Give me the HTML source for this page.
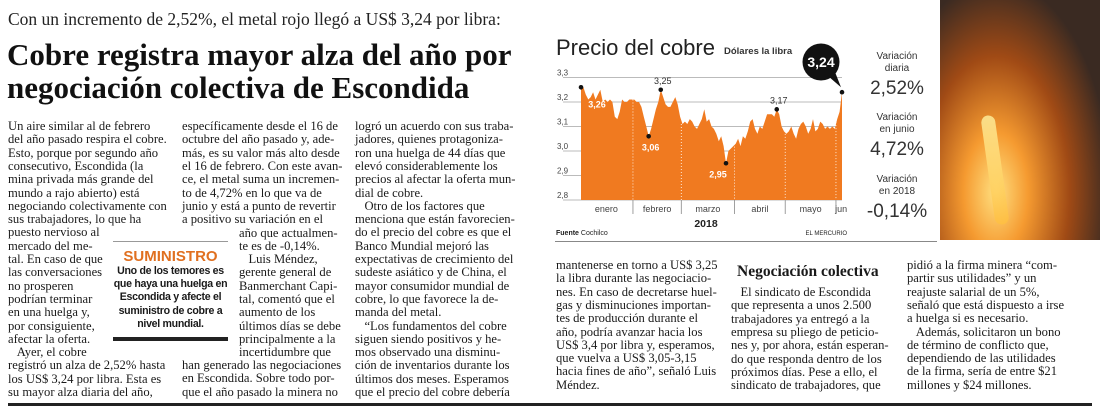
<!DOCTYPE html>
<html><head><meta charset="utf-8">
<style>
body{margin:0;width:1100px;height:417px;background:#fff;position:relative;overflow:hidden;font-family:"Liberation Serif",serif;color:#1a1a1a}
.l{position:absolute;white-space:nowrap;font-size:12.6px;line-height:13px}
.abs{position:absolute}
</style></head><body>
<div class="abs" style="left:8px;top:9px;font-size:17.5px;color:#222">Con un incremento de 2,52%, el metal rojo llegó a US$ 3,24 por libra:</div>
<div class="abs" style="left:7px;top:38px;font-size:31px;font-weight:bold;line-height:33px;color:#111">Cobre registra mayor alza del año por<br>negociación colectiva de Escondida</div>

<div id="body"></div>

<div class="abs" style="left:113px;top:241px;width:115px;height:1px;background:#999"></div>
<div class="abs" style="left:113px;top:248px;width:115px;text-align:center;font-family:'Liberation Sans',sans-serif;font-weight:bold;font-size:15px;color:#e07020">SUMINISTRO</div>
<div class="abs" style="left:110px;top:265px;width:121px;text-align:center;font-family:'Liberation Sans',sans-serif;font-weight:bold;font-size:10.6px;line-height:13.2px;letter-spacing:-0.3px">Uno de los temores es que haya una huelga en Escondida y afecte el suministro de cobre a nivel mundial.</div>
<div class="abs" style="left:113px;top:337px;width:115px;height:4px;background:#222"></div>

<div class="abs" style="left:737px;top:263px;font-size:15.5px;font-weight:bold">Negociación colectiva</div>
<div class="abs" style="left:8px;top:403px;width:1084px;height:3px;background:#222"></div>
<div class="abs" style="left:555px;top:241px;width:382px;height:1px;background:#888"></div>

<div class="abs" style="left:940px;top:0;width:160px;height:240px;background:radial-gradient(ellipse at 35% 80%,#ffe080 0%,#f59a30 22%,#a04a15 50%,#3a2a22 78%),#2a2420"></div>
<div class="abs" style="left:988px;top:115px;width:14px;height:110px;background:linear-gradient(#fff2a0,#ffc040);border-radius:7px;transform:rotate(-8deg);opacity:0.8"></div>

<svg class="abs" style="left:0;top:0" width="1100" height="417" id="chart">
<text x="556" y="55" font-family="Liberation Sans,sans-serif" font-size="22" fill="#222">Precio del cobre</text>
<text x="724" y="54" font-family="Liberation Sans,sans-serif" font-size="9.5" font-weight="bold" fill="#333">Dólares la libra</text>
<g id="plot"></g>
<text x="706" y="227" text-anchor="middle" font-family="Liberation Sans,sans-serif" font-size="10.5" font-weight="bold" fill="#222">2018</text>
<text x="556" y="235" font-family="Liberation Sans,sans-serif" font-size="7" fill="#222"><tspan font-weight="bold">Fuente</tspan> Cochilco</text>
<text x="847" y="235" text-anchor="end" font-family="Liberation Sans,sans-serif" font-size="6" fill="#222">EL MERCURIO</text>
<g font-family="Liberation Sans,sans-serif" text-anchor="middle" fill="#333">
<text x="897" y="59" font-size="10">Variación</text>
<text x="897" y="71" font-size="10">diaria</text>
<text x="897" y="94" font-size="19">2,52%</text>
<text x="897" y="120" font-size="10">Variación</text>
<text x="897" y="132" font-size="10">en junio</text>
<text x="897" y="155" font-size="19">4,72%</text>
<text x="897" y="182" font-size="10">Variación</text>
<text x="897" y="194" font-size="10">en 2018</text>
<text x="897" y="217" font-size="19">-0,14%</text>
</g>
</svg>

<script>
const prices=[3.26,3.26,3.23,3.21,3.22,3.24,3.21,3.23,3.25,3.20,3.21,3.20,3.21,3.20,3.14,3.13,3.16,3.21,3.20,3.20,3.21,3.21,
3.21,3.20,3.20,3.18,3.14,3.10,3.06,3.09,3.13,3.17,3.20,3.25,3.22,3.19,3.18,3.18,3.20,3.22,3.19,3.14,
3.11,3.12,3.11,3.13,3.12,3.10,3.09,3.11,3.13,3.17,3.12,3.13,3.10,3.09,3.07,3.04,3.06,3.02,2.95,3.00,3.01,3.02,
3.03,3.05,3.02,3.06,3.05,3.08,3.12,3.13,3.09,3.07,3.10,3.09,3.12,3.15,3.15,3.15,3.14,3.17,3.15,3.10,3.08,
3.07,3.08,3.10,3.07,3.05,3.09,3.11,3.12,3.10,3.07,3.09,3.13,3.08,3.09,3.12,3.11,3.09,3.10,3.09,3.10,3.09,
3.13,3.16,3.24];
const months=["enero","febrero","marzo","abril","mayo","jun"];
const monthStart=[0,22,42,64,85,106];
const yTicks=[3.3,3.2,3.1,3.0,2.9,2.8];
const annIdx=[0,28,33,60,81];
const annLabels=["3,26","3,06","3,25","2,95","3,17"];
const lastLabel="3,24";
const X0=581,X1=842,Y0=200,YMIN=2.8,YMAX=3.3,YT=77.5;
const ns="http://www.w3.org/2000/svg";
const xs=i=>X0+(X1-X0)*i/(prices.length-1);
const ys=v=>Y0-(v-YMIN)/(YMAX-YMIN)*(Y0-YT);
const g=document.getElementById('plot');
function mk(t,a){const e=document.createElementNS(ns,t);for(const k in a)e.setAttribute(k,a[k]);g.appendChild(e);return e;}
yTicks.forEach(v=>{
 const ln=mk('line',{x1:X0-18,x2:X1,y1:ys(v),y2:ys(v),stroke:'#bbb','stroke-width':1});
 
 
 const t=mk('text',{x:X0-24,y:ys(v)-2,'font-family':'Liberation Sans,sans-serif','font-size':8,fill:'#444'});
 t.textContent=v.toFixed(1).replace('.',',');
 
 
});
let d='M'+xs(0)+','+Y0;
prices.forEach((v,i)=>{d+=' L'+xs(i).toFixed(1)+','+ys(v).toFixed(1);});
d+=' L'+xs(prices.length-1)+','+Y0+' Z';
const area=mk('path',{d:d,fill:'#f07a20'});


monthStart.forEach((s,i)=>{
 if(i>0){const dl=mk('line',{x1:xs(s-0.5),x2:xs(s-0.5),y1:ys(prices[s]),y2:Y0+12,stroke:'#fff','stroke-dasharray':'1,2','stroke-width':0.8});
 
 
 const dl2=mk('line',{x1:xs(s-0.5),x2:xs(s-0.5),y1:Y0,y2:Y0+14,stroke:'#888','stroke-width':0.8});
 
 }
 const e=i<monthStart.length-1?monthStart[i+1]:prices.length;
 const t=mk('text',{x:i<5?(xs(s)+xs(e-1))/2:xs(s)+4,y:Y0+12,'text-anchor':'middle','font-family':'Liberation Sans,sans-serif','font-size':9,fill:'#444'});
 t.textContent=months[i];
 
 
});
annIdx.forEach((ix,k)=>{
 const c=mk('circle',{cx:xs(ix),cy:ys(prices[ix]),r:2.3,fill:'#111'});
 
 
 const above=(k===2||k===4);
 const t=mk('text',{x:xs(ix)+(k===0?16:(k===3?-8:2)),y:above?ys(prices[ix])-6:ys(prices[ix])+(k===0?20:14),'text-anchor':'middle','font-family':'Liberation Sans,sans-serif','font-size':9,'font-weight':above?'normal':'bold',fill:above?'#333':'#fff'});
 t.textContent=annLabels[k];
 
 
});
const li=prices.length-1;
const lx=xs(li), ly=ys(prices[li]);
const bub=mk('circle',{cx:lx-21,cy:62,r:18.5,fill:'#111'});


const tail=mk('path',{d:`M${lx-14},76 L${lx-1},${ly-5} L${lx-7},72 Z`,fill:'#111'});


const lc=mk('circle',{cx:lx,cy:ly,r:2.3,fill:'#111'});


const bt=mk('text',{x:lx-21,y:67,'text-anchor':'middle','font-family':'Liberation Sans,sans-serif','font-size':14,'font-weight':'bold',fill:'#fff'});
bt.textContent=lastLabel;



// body text
const cols=[
 [8,120,["Un aire similar al de febrero","del año pasado respira el cobre.","Esto, porque por segundo año","consecutivo, Escondida (la","mina privada más grande del","mundo a rajo abierto) está","negociando colectivamente con","sus trabajadores, lo que ha","puesto nervioso al","mercado del me-","tal. En caso de que","las conversaciones","no prosperen","podrían terminar","en una huelga y,","por consiguiente,","afectar la oferta.","   Ayer, el cobre","registró un alza de 2,52% hasta","los US$ 3,24 por libra. Esta es","su mayor alza diaria del año,"]],
 [182,120,["específicamente desde el 16 de","octubre del año pasado y, ade-","más, es su valor más alto desde","el 16 de febrero. Con este avan-","ce, el metal suma un incremen-","to de 4,72% en lo que va de","junio y está a punto de revertir","a positivo su variación en el"]],
 [239,226.5,["año que actualmen-","te es de -0,14%.","   Luis Méndez,","gerente general de","Banmerchant Capi-","tal, comentó que el","aumento de los","últimos días se debe","principalmente a la","incertidumbre que"]],
 [182,359,["han generado las negociaciones","en Escondida. Sobre todo por-","que el año pasado la minera no"]],
 [355,120,["logró un acuerdo con sus traba-","jadores, quienes protagoniza-","ron una huelga de 44 días que","elevó considerablemente los","precios al afectar la oferta mun-","dial de cobre.","   Otro de los factores que","menciona que están favorecien-","do el precio del cobre es que el","Banco Mundial mejoró las","expectativas de crecimiento del","sudeste asiático y de China, el","mayor consumidor mundial de","cobre, lo que favorece la de-","manda del metal.","   “Los fundamentos del cobre","siguen siendo positivos y he-","mos observado una disminu-","ción de inventarios durante los","últimos dos meses. Esperamos","que el precio del cobre debería"]],
 [556,259,["mantenerse en torno a US$ 3,25","la libra durante las negociacio-","nes. En caso de decretarse huel-","gas y disminuciones importan-","tes de producción durante el","año, podría avanzar hacia los","US$ 3,4 por libra y, esperamos,","que vuelva a US$ 3,05-3,15","hacia fines de año”, señaló Luis","Méndez."]],
 [731,286,["   El sindicato de Escondida","que representa a unos 2.500","trabajadores ya entregó a la","empresa su pliego de peticio-","nes y, por ahora, están esperan-","do que responda dentro de los","próximos días. Pese a ello, el","sindicato de trabajadores, que"]],
 [907,259,["pidió a la firma minera “com-","partir sus utilidades” y un","reajuste salarial de un 5%,","señaló que está dispuesto a irse","a huelga si es necesario.","   Además, solicitaron un bono","de término de conflicto que,","dependiendo de las utilidades","de la firma, sería de entre $21","millones y $24 millones."]]
];
const body=document.getElementById('body');
cols.forEach(([x,y,lines])=>{
 lines.forEach((s,i)=>{
  const e=document.createElement('div');
  e.className='l';
  e.style.left=x+'px';e.style.top=(y+i*13.3)+'px';
  e.style.whiteSpace='pre';
  e.textContent=s;
  
  
  body.appendChild(e);
 });
});
</script>
</body></html>
